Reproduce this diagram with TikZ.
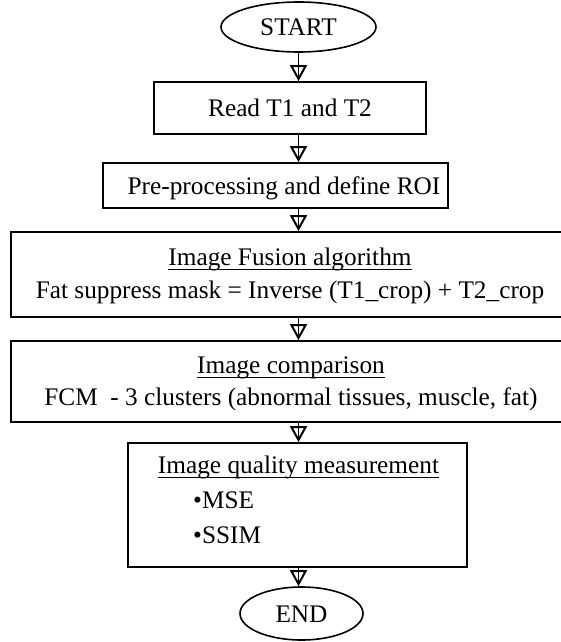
\documentclass[tikz,border=0pt]{standalone}
\usepackage{fontspec}
\setmainfont{Liberation Serif}
\usetikzlibrary{arrows.meta,shapes.geometric}
\begin{document}
\begin{tikzpicture}[x=1pt,y=-1pt,
  lbl/.style={inner sep=0pt, anchor=base, font=\fontsize{25.3}{30}\selectfont},
  lblw/.style={lbl, anchor=base west},
  box/.style={draw, line width=1.8pt, inner sep=0pt},
  term/.style={draw, ellipse, line width=1.6pt, inner sep=0pt},
  uline/.style={line width=1.6pt},
  flow/.style={line width=1.8pt, -{Triangle[open,length=16pt,width=17pt,line width=2pt]}, postaction={draw,-}}]
\useasboundingbox (0,0) rectangle (561,642);
% terminals
\node[term, minimum width=155pt, minimum height=50pt] (s) at (298.5,27) {};
\node[lbl] (st) at (298.5,35.5) {START};
\node[term, minimum width=123pt, minimum height=53pt] (e) at (301.5,613.5) {};
\node[lbl] (et) at (301.5,622) {END};
% boxes
\node[box, minimum width=272pt, minimum height=52pt] (b1) at (290,108) {};
\node[lbl] (t1) at (290,116.5) {Read T1 and T2};
\node[box, minimum width=345pt, minimum height=45pt] (b2) at (275.5,185.5) {};
\node[lbl] (t2) at (284,194.5) {Pre-processing and define ROI};
\node[box, minimum width=558pt, minimum height=85pt] (b3) at (290,274.5) {};
\node[lbl] (t3a) at (290,265.5) {Image Fusion algorithm};
\node[lbl] (t3b) at (290,298.5) {Fat suppress mask = Inverse (T1\_crop) + T2\_crop};
\node[box, minimum width=558pt, minimum height=81pt] (b4) at (290,381.5) {};
\node[lbl] (t4a) at (291,373.5) {Image comparison};
\node[lbl] (t4b) at (291,405.5) {FCM\ \ - 3 clusters (abnormal tissues, muscle, fat)};
\node[box, minimum width=339pt, minimum height=124pt] (b5) at (297.5,505) {};
\node[lbl] (t5a) at (298.5,473.5) {Image quality measurement};
\node[lblw] (t5b) at (193,508.5) {•MSE};
\node[lblw] (t5c) at (193,543.5) {•SSIM};
% underlines
\draw[uline] ([yshift=-4pt]t3a.base west) -- ([yshift=-4pt]t3a.base east);
\draw[uline] ([yshift=-4pt]t4a.base west) -- ([yshift=-4pt]t4a.base east);
\draw[uline] ([yshift=-4pt]t5a.base west) -- ([yshift=-4pt]t5a.base east);
% connectors
\draw[flow] (s.south) -- (s.south |- b1.north);
\draw[flow] (b1.south -| s.south) -- (b2.north -| s.south);
\draw[flow] (b2.south -| s.south) -- (b3.north -| s.south);
\draw[flow] (b3.south -| s.south) -- (b4.north -| s.south);
\draw[flow] (b4.south -| s.south) -- (b5.north -| s.south);
\draw[flow] (b5.south -| s.south) -- (e.north -| s.south);
\end{tikzpicture}
\end{document}
